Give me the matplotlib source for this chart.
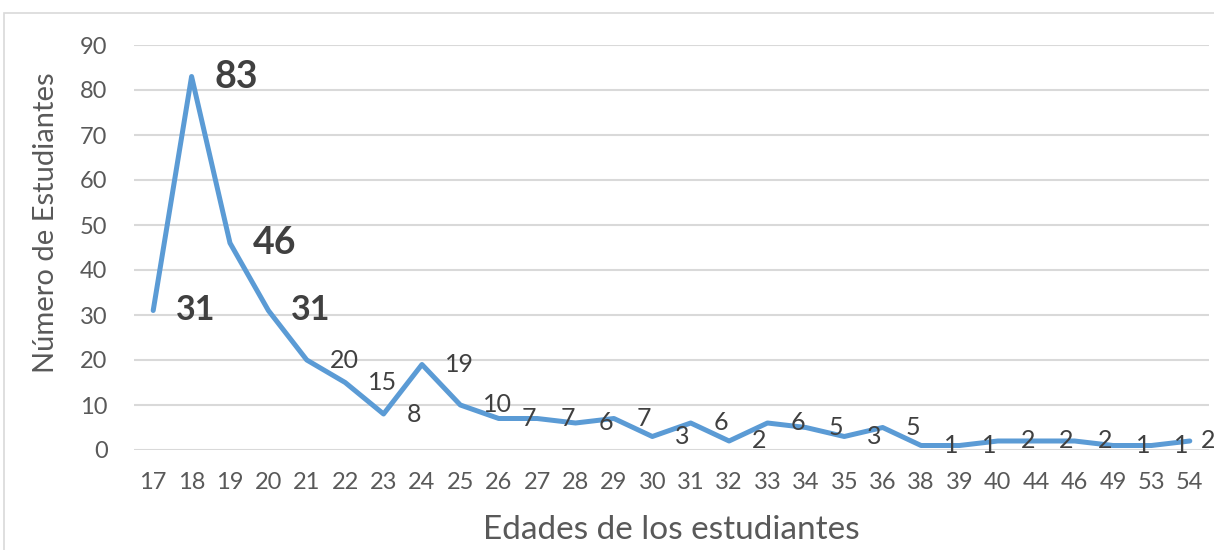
import matplotlib.pyplot as plt
from matplotlib.patches import Rectangle

# datos
edades = ['17', '18', '19', '20', '21', '22', '23', '24', '25', '26', '27', '28', '29', '30',
          '31', '32', '33', '34', '35', '36', '38', '39', '40', '44', '46', '49', '53', '54']
estudiantes = [31, 83, 46, 31, 20, 15, 8, 19, 10, 7, 7, 6, 7, 3,
               6, 2, 6, 5, 3, 5, 1, 1, 2, 2, 2, 1, 1, 2]
# etiquetas destacadas (negrita) -> tamaño de letra
destacadas = {0: 24.5, 1: 27, 2: 27, 3: 24.5}

plt.rcParams['font.family'] = ['Lato', 'DejaVu Sans']

W, H = 1214, 550
fig = plt.figure(figsize=(W / 100, H / 100), dpi=100)
ax = fig.add_axes([134 / W, 1 - 450 / H, (1209 - 134) / W, (450 - 45) / H])

# marco exterior (solo se ven arriba y a la izquierda)
fig.patches.append(Rectangle((4 / W, -0.1), 1.2, 1.1 - 13 / H,
                             transform=fig.transFigure, fill=False,
                             edgecolor='#D9D9D9', linewidth=1.2))

x = list(range(len(edades)))
ax.plot(x, estudiantes, color='#5B9BD5', linewidth=3.6, solid_joinstyle='round',
        solid_capstyle='round', zorder=3)

for i, v in enumerate(estudiantes):
    dx = 23 if i < len(estudiantes) - 1 else 11
    if i in destacadas:
        ax.annotate(str(v), xy=(i, v), xytext=(dx, 0), textcoords='offset pixels',
                    ha='left', va='center', fontsize=destacadas[i],
                    fontweight='bold', color='#404040', annotation_clip=False)
    else:
        ax.annotate(str(v), xy=(i, v), xytext=(dx, 0), textcoords='offset pixels',
                    ha='left', va='center', fontsize=18, color='#404040',
                    annotation_clip=False)

ax.set_xlim(-0.5, len(edades) - 0.5)
ax.set_ylim(0, 90)
ax.set_yticks(range(0, 91, 10))
ax.set_xticks(x)
ax.set_xticklabels(edades)
ax.tick_params(axis='both', length=0, labelsize=17, labelcolor='#595959')
ax.tick_params(axis='y', pad=19)
ax.tick_params(axis='x', pad=16)
ax.grid(axis='y', color='#D9D9D9', linewidth=1.5)
ax.set_axisbelow(True)
for s in ax.spines.values():
    s.set_visible(False)

fig.text(671 / W, 1 - 530 / H, 'Edades de los estudiantes', fontsize=24,
         color='#595959', ha='center', va='center')
fig.text(46 / W, 1 - 223 / H, 'Número de Estudiantes', fontsize=21,
         color='#595959', ha='center', va='center', rotation=90)

fig.savefig('out.png', dpi=100)
